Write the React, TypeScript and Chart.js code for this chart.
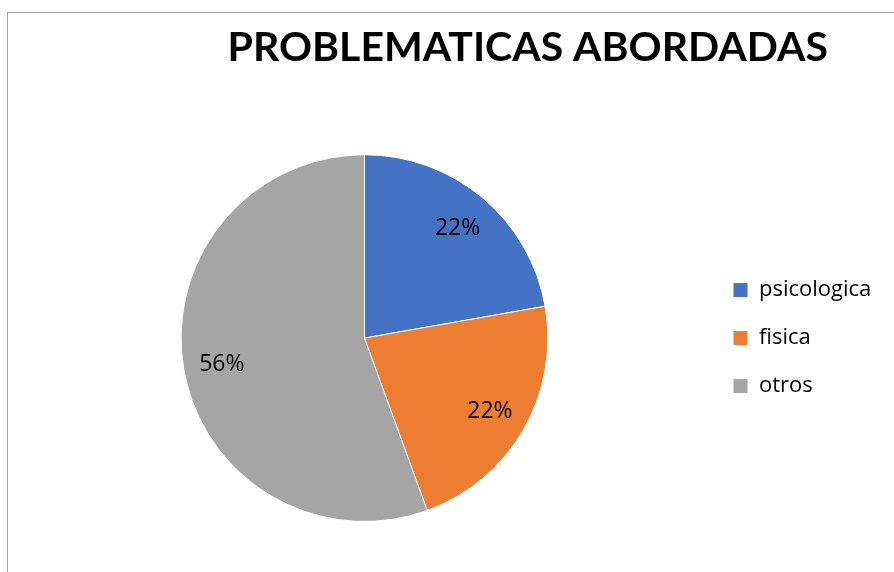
import React, { useEffect, useRef } from "react";
import { Chart, registerables } from "chart.js";

Chart.register(...registerables);

const chartTitle = "PROBLEMATICAS ABORDADAS";
const categories = ["psicologica", "fisica", "otros"];
const values = [2, 2, 5];
const colors = ["#4472C4", "#ED7D31", "#A5A5A5"];

const pctLabels = {
  id: "pctLabels",
  afterDatasetsDraw(chart: any) {
    const ctx = chart.ctx;
    const meta = chart.getDatasetMeta(0);
    const data = chart.data.datasets[0].data as number[];
    const total = data.reduce((a, b) => a + b, 0);
    ctx.save();
    ctx.font = '23px "Open Sans"';
    ctx.fillStyle = "#000000";
    ctx.textAlign = "center";
    ctx.textBaseline = "middle";
    meta.data.forEach((arc: any, i: number) => {
      const p = arc.getProps(["x", "y", "startAngle", "endAngle", "outerRadius"], true);
      const mid = (p.startAngle + p.endAngle) / 2;
      const r = p.outerRadius * 0.79;
      const label = Math.round((data[i] / total) * 100) + "%";
      ctx.fillText(label, p.x + Math.cos(mid) * r, p.y + Math.sin(mid) * r + 1);
    });
    ctx.restore();
  },
};

// let the legend's labels run past its narrow box instead of being clipped
const legendRoom = {
  id: "legendRoom",
  afterLayout(chart: any) {
    const lg = chart.legend;
    if (lg) {
      lg.right = chart.width;
      lg.width = lg.right - lg.left;
    }
  },
};

export default function App() {
  const ref = useRef<HTMLCanvasElement | null>(null);

  useEffect(() => {
    document.body.style.margin = "0";
    const canvas = ref.current!;
    const chart = new Chart(canvas, {
      type: "pie",
      data: {
        labels: categories,
        datasets: [
          {
            data: values,
            backgroundColor: colors,
            borderColor: "#ffffff",
            borderWidth: 1,
          },
        ],
      },
      options: {
        responsive: false,
        animation: false,
        devicePixelRatio: 1,
        layout: { padding: { left: 22, right: 66, top: 0, bottom: 50 } },
        plugins: {
          tooltip: { enabled: false },
          title: {
            display: true,
            text: chartTitle,
            align: "end",
            color: "#000000",
            font: { family: "Lato", size: 41, weight: "bold" },
            padding: { top: 23, bottom: 82 },
          },
          legend: {
            display: true,
            position: "right",
            fullSize: false,
            maxWidth: 121,
            labels: {
              boxWidth: 15,
              boxHeight: 15,
              padding: 26,
              color: "#000000",
              font: { family: "Open Sans", size: 22 },
            },
          },
        },
      },
      plugins: [pctLabels, legendRoom],
    });
    if ((document as any).fonts && (document as any).fonts.ready) {
      (document as any).fonts.ready.then(() => chart.update());
    }
    return () => chart.destroy();
  }, []);

  return (
    <div
      style={{
        position: "fixed",
        left: 0,
        top: 0,
        width: 894,
        height: 572,
        overflow: "hidden",
        background: "#ffffff",
      }}
    >
      <div
        style={{
          position: "absolute",
          left: 7,
          top: 12,
          width: 1000,
          height: 1000,
          border: "1px solid #a6a6a6",
        }}
      />
      <canvas
        ref={ref}
        width={894}
        height={572}
        style={{ position: "absolute", left: 0, top: 0, width: 894, height: 572 }}
      />
    </div>
  );
}
